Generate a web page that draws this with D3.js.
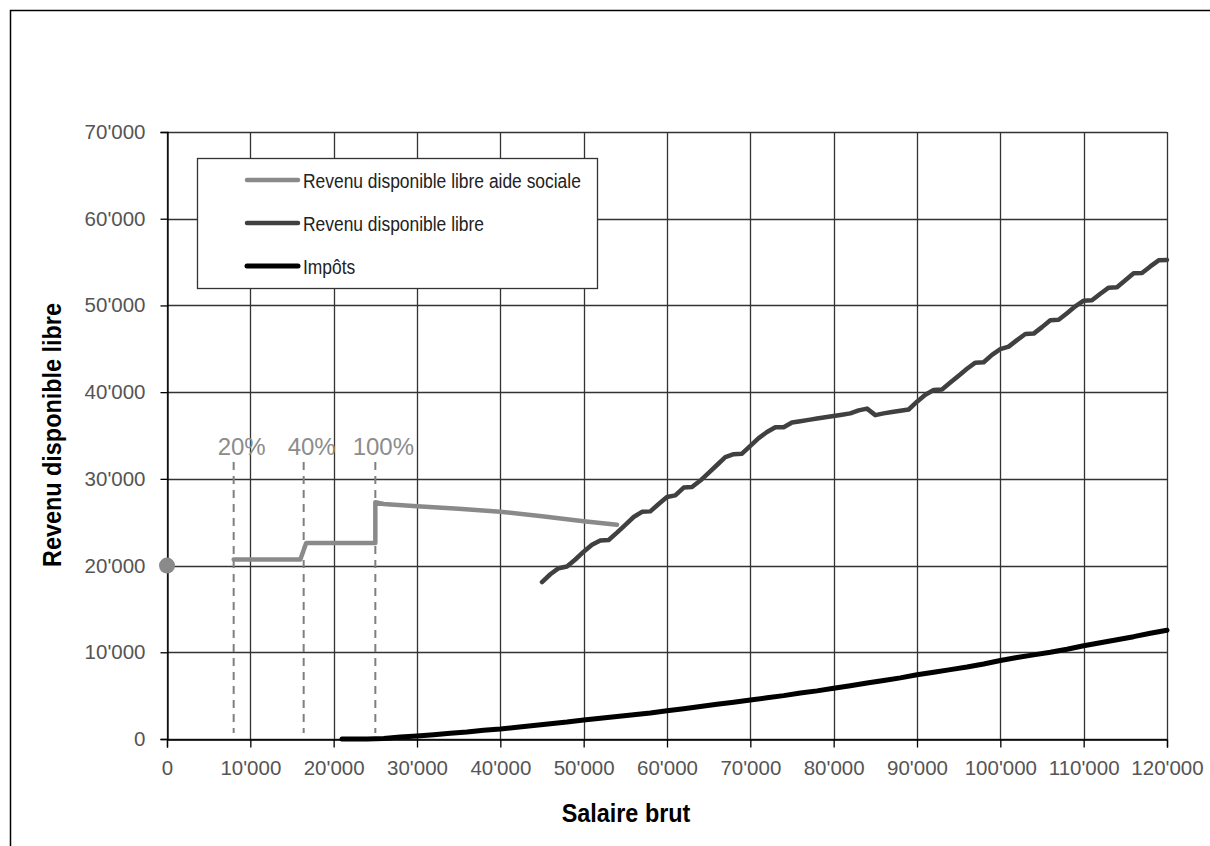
<!DOCTYPE html>
<html>
<head>
<meta charset="utf-8">
<script src="https://cdn.jsdelivr.net/npm/d3@7/dist/d3.min.js"></script>
<style>
  html, body { margin: 0; padding: 0; background: #fff; }
  svg { display: block; }
  .tick-label { font-family: "Liberation Sans", Arial, sans-serif; font-size: 20.5px; fill: #555; }
  .axis-title { font-family: "Liberation Sans", Arial, sans-serif; font-size: 26px; font-weight: bold; fill: #000; }
  .legend-text { font-family: "Liberation Sans", Arial, sans-serif; font-size: 21px; fill: #222; }
  .pct-label { font-family: "Liberation Sans", Arial, sans-serif; font-size: 24px; fill: #8c8c8c; }
</style>
</head>
<body>
<svg id="chart" width="1210" height="846"></svg>
<script>
// Axis ticks
const xTickValues = [0, 10000, 20000, 30000, 40000, 50000, 60000, 70000, 80000, 90000, 100000, 110000, 120000];
const yTickValues = [0, 10000, 20000, 30000, 40000, 50000, 60000, 70000];

// Revenu disponible libre avec aide sociale
const aideSalaire = [8000, 16000, 16700, 25000, 25000, 26000, 30000, 35000, 40000, 45000, 50000, 54000];
const aideRevenu  = [20700, 20700, 22600, 22600, 27300, 27100, 26850, 26550, 26200, 25700, 25100, 24700];

// Revenu disponible libre
const libreSalaire = [45000, 46000, 47000, 48000, 49000, 50000, 51000, 52000, 53000, 54000,
  55000, 56000, 57000, 58000, 59000, 60000, 61000, 62000, 63000, 64000,
  65000, 66000, 67000, 68000, 69000, 70000, 71000, 72000, 73000, 74000,
  75000, 76000, 77000, 78000, 79000, 80000, 81000, 82000, 83000, 84000,
  85000, 86000, 87000, 88000, 89000, 90000, 91000, 92000, 93000, 94000,
  95000, 96000, 97000, 98000, 99000, 100000, 101000, 102000, 103000, 104000,
  105000, 106000, 107000, 108000, 109000, 110000, 111000, 112000, 113000, 114000,
  115000, 116000, 117000, 118000, 119000, 120000];
const libreRevenu = [18100, 19000, 19700, 19900, 20700, 21600, 22400, 22900, 22950, 23800,
  24700, 25600, 26200, 26250, 27100, 27900, 28100, 29000, 29050, 29800,
  30700, 31600, 32500, 32850, 32900, 33800, 34700, 35400, 35950, 35950,
  36500, 36650, 36800, 36950, 37100, 37250, 37400, 37550, 37900, 38100,
  37350, 37550, 37700, 37850, 38000, 38900, 39700, 40250, 40300, 41100,
  41900, 42700, 43400, 43450, 44300, 44950, 45250, 46000, 46700, 46750,
  47500, 48300, 48350, 49100, 49900, 50550, 50600, 51350, 52050, 52100,
  52900, 53700, 53750, 54500, 55200, 55250];

// Impôts
const impotSalaire = [21000, 22000, 23000, 24000, 25000, 26000, 27000, 28000, 29000, 30000,
  32000, 34000, 36000, 38000, 40000, 42000, 44000, 46000, 48000, 50000,
  52000, 54000, 56000, 58000, 60000, 62000, 64000, 66000, 68000, 70000,
  72000, 74000, 76000, 78000, 80000, 82000, 84000, 86000, 88000, 90000,
  92000, 94000, 96000, 98000, 100000, 102000, 104000, 106000, 108000, 110000,
  112000, 114000, 116000, 118000, 120000];
const impotMontant = [0, 0, 0, 0, 20, 60, 150, 220, 280, 350,
  500, 650, 800, 1000, 1150, 1350, 1550, 1750, 1950, 2200,
  2400, 2600, 2800, 3000, 3250, 3500, 3750, 4000, 4250, 4500,
  4750, 5000, 5300, 5550, 5850, 6150, 6450, 6750, 7050, 7400,
  7700, 8000, 8300, 8650, 9050, 9400, 9700, 10000, 10350, 10750,
  11100, 11450, 11800, 12200, 12550];

// Seuils de réduction de l'aide et point de départ
const seuilSalaire = [8000, 16400, 25000];
const seuilLabels = ["20%", "40%", "100%"];
const pointDepart = { salaire: 0, revenu: 20000 };

const legendLabels = ["Revenu disponible libre aide sociale", "Revenu disponible libre", "Impôts"];
const xTitle = "Salaire brut";
const yTitle = "Revenu disponible libre";

const svg = d3.select("#chart");
const fmt = d3.formatLocale({ decimal: ".", thousands: "'", grouping: [3], currency: ["", ""] }).format(",d");

const plotLeft = 167, plotRight = 1167, plotTop = 132, plotBottom = 739;
const x = d3.scaleLinear().domain([0, 120000]).range([plotLeft, plotRight]);
const y = d3.scaleLinear().domain([0, 70000]).range([plotBottom, plotTop]);

// Outer frame (top and left edges)
svg.append("path")
  .attr("d", "M10.5,846 L10.5,10.5 L1210,10.5")
  .attr("fill", "none").attr("stroke", "#000").attr("stroke-width", 1.5);

// Grid
const grid = svg.append("g");
grid.selectAll("line.h").data(yTickValues).join("line")
  .attr("x1", plotLeft).attr("x2", plotRight)
  .attr("y1", d => Math.round(y(d)) + 0.5).attr("y2", d => Math.round(y(d)) + 0.5)
  .attr("stroke", "#333").attr("stroke-width", 1.3);
grid.selectAll("line.v").data(xTickValues).join("line")
  .attr("y1", plotTop).attr("y2", plotBottom)
  .attr("x1", d => Math.round(x(d)) + 0.5).attr("x2", d => Math.round(x(d)) + 0.5)
  .attr("stroke", "#333").attr("stroke-width", 1.3);

// Axes
const yAxis = d3.axisLeft(y).tickValues(yTickValues).tickFormat(fmt).tickSize(7).tickPadding(15);
const xAxis = d3.axisBottom(x).tickValues(xTickValues).tickFormat(fmt).tickSize(8).tickPadding(10);

const gy = svg.append("g").attr("transform", `translate(${plotLeft + 0.5},0)`).call(yAxis);
const gx = svg.append("g").attr("transform", `translate(0,${plotBottom + 0.5})`).call(xAxis);
[gx, gy].forEach(g => {
  g.select(".domain").attr("stroke", "#000").attr("stroke-width", 1.3);
  g.selectAll(".tick line").attr("stroke", "#000").attr("stroke-width", 1.3);
  g.selectAll(".tick text").attr("class", "tick-label").attr("fill", null);
  g.attr("font-family", null).attr("font-size", null);
});
gx.selectAll(".tick text").attr("dy", "0.85em");

// Threshold markers
const seuils = svg.append("g");
seuils.selectAll("line").data(seuilSalaire).join("line")
  .attr("x1", d => x(d)).attr("x2", d => x(d))
  .attr("y1", 462).attr("y2", 733)
  .attr("stroke", "#7f7f7f").attr("stroke-width", 2)
  .attr("stroke-dasharray", "8,6");
seuils.selectAll("text").data(seuilSalaire).join("text")
  .attr("class", "pct-label")
  .attr("x", d => x(d) + 8).attr("y", 455)
  .attr("text-anchor", "middle")
  .text((d, i) => seuilLabels[i]);

// Series
const line = d3.line().x(d => x(d[0])).y(d => y(d[1]));
const series = [
  { xs: impotSalaire, ys: impotMontant, color: "#000", width: 5 },
  { xs: libreSalaire, ys: libreRevenu, color: "#404040", width: 4.5 },
  { xs: aideSalaire, ys: aideRevenu, color: "#8a8a8a", width: 4.5 }
];
series.forEach(s => {
  svg.append("path")
    .datum(s.xs.map((v, i) => [v, s.ys[i]]))
    .attr("d", line)
    .attr("fill", "none")
    .attr("stroke", s.color)
    .attr("stroke-width", s.width)
    .attr("stroke-linejoin", "round")
    .attr("stroke-linecap", "round");
});

svg.append("circle")
  .attr("cx", x(pointDepart.salaire)).attr("cy", y(pointDepart.revenu))
  .attr("r", 8).attr("fill", "#8a8a8a");

// Legend (condensed text)
const lg = svg.append("g");
lg.append("rect").attr("x", 197.5).attr("y", 158.5).attr("width", 400).attr("height", 130)
  .attr("fill", "#fff").attr("stroke", "#333").attr("stroke-width", 1.3);
const legendColors = ["#8a8a8a", "#404040", "#000"];
const legendWidths = [4.5, 4.5, 5];
legendLabels.forEach((lab, i) => {
  const cy = 180 + i * 43;
  lg.append("line").attr("x1", 247).attr("x2", 298).attr("y1", cy).attr("y2", cy)
    .attr("stroke", legendColors[i]).attr("stroke-width", legendWidths[i]).attr("stroke-linecap", "round");
  lg.append("text").attr("class", "legend-text")
    .attr("transform", `translate(303,${cy + 7.5}) scale(0.83,1)`).text(lab);
});

// Axis titles (condensed bold)
svg.append("text").attr("class", "axis-title")
  .attr("transform", "translate(626,822) scale(0.9,1)")
  .attr("text-anchor", "middle").text(xTitle);
svg.append("text").attr("class", "axis-title")
  .attr("transform", "translate(61,435) rotate(-90) scale(0.9,1)")
  .attr("text-anchor", "middle").text(yTitle);
</script>
</body>
</html>
